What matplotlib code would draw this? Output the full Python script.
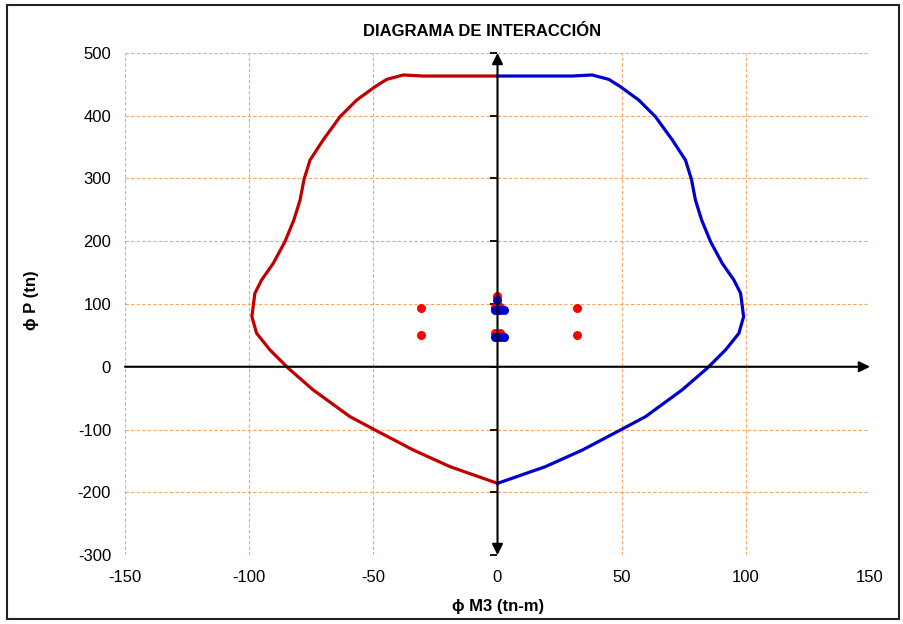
import numpy as np
import matplotlib
matplotlib.use("Agg")
import matplotlib.pyplot as plt
from matplotlib.patches import Rectangle

plt.rcParams['font.family'] = ['Liberation Sans', 'DejaVu Sans']
plt.rcParams['axes.unicode_minus'] = False

# interaction curve, left side (negative moment)
m_left = [0.0, -19.1, -33.9, -49.3, -59.4, -74.2, -84.2, -91.6, -97.0, -98.9,
          -97.7, -95.0, -90.3, -85.6, -82.0, -79.5, -77.9, -75.5, -70.2, -63.4,
          -56.7, -49.3, -44.6, -37.9, -29.9, 0.0]
p_left = [-185.8, -159.2, -132.7, -100.8, -79.5, -37.0, -2.5, 26.7, 53.3, 79.8,
          117.0, 138.2, 164.8, 199.3, 233.9, 265.7, 298.7, 329.3, 361.4, 398.5,
          425.0, 446.3, 458.0, 465.0, 463.3, 463.3]

# interaction curve, right side (positive moment)
m_right = [0.0, 19.3, 34.2, 49.5, 59.6, 74.3, 84.4, 91.8, 97.2, 99.1,
           97.9, 95.2, 90.5, 85.8, 82.2, 79.7, 78.1, 75.7, 70.4, 63.6,
           56.9, 49.5, 44.8, 38.1, 30.1, 0.0]
p_right = [-185.8, -159.2, -132.7, -100.8, -79.5, -37.0, -2.5, 26.7, 53.3, 79.8,
           117.0, 138.2, 164.8, 199.3, 233.9, 265.7, 298.7, 329.3, 361.4, 398.5,
           425.0, 446.3, 458.0, 465.0, 463.3, 463.3]

# load combinations
m_red = [-30.8, -30.8, 31.9, 31.9, 0.0, -1.0, 1.0, -1.0, 1.0]
p_red = [93.5, 50.6, 94.0, 50.6, 112.7, 95.7, 95.7, 53.8, 53.8]
m_blue = [0.0, -1.2, 0.0, 1.2, 2.6, -1.2, 0.0, 1.2, 2.6]
p_blue = [106.3, 90.5, 90.5, 90.5, 90.5, 47.0, 47.0, 47.0, 47.0]

x_ticks = [-150, -100, -50, 0, 50, 100, 150]
y_ticks = [-300, -200, -100, 0, 100, 200, 300, 400, 500]

W, H = 904, 624
fig = plt.figure(figsize=(W / 100, H / 100), dpi=100)
ax = fig.add_axes([125 / W, (H - 555) / H, (870 - 125) / W, (555 - 53) / H])

ax.set_xlim(-150, 150)
ax.set_ylim(-300, 500)
ax.set_xticks(x_ticks)
ax.set_yticks(y_ticks)
ax.grid(True, color='#F79646', lw=0.8, alpha=0.85, linestyle=(0, (3, 2)))
ax.set_axisbelow(True)
for s in ax.spines.values():
    s.set_visible(False)
ax.tick_params(length=0, labelsize=12)
ax.tick_params(axis='x', pad=11)
ax.tick_params(axis='y', pad=10)

# axes through origin with arrows
ax.annotate('', xy=(0, 500), xytext=(0, -300),
            arrowprops=dict(arrowstyle='<|-|>', color='black', lw=1.5,
                            mutation_scale=16, shrinkA=0, shrinkB=0),
            annotation_clip=False)
ax.annotate('', xy=(150, 0), xytext=(-150, 0),
            arrowprops=dict(arrowstyle='-|>', color='black', lw=1.5,
                            mutation_scale=16, shrinkA=0, shrinkB=0),
            annotation_clip=False)
ax.plot(np.zeros(len(y_ticks)), y_ticks, linestyle='none', marker=0,
        color='black', markersize=5, mew=1.3, clip_on=False)

ax.plot(m_left, p_left, color='#C00000', lw=2.3, solid_joinstyle='round')
ax.plot(m_right, p_right, color='#0000CC', lw=2.3, solid_joinstyle='round')
ax.plot(m_red, p_red, 'o', color='#FF0000', markersize=6.5, mew=0)
ax.plot(m_blue, p_blue, 'o', color='#0000CC', markersize=6.5, mew=0)

fig.text(482 / W, 1 - 31 / H, 'DIAGRAMA DE INTERACCIÓN', ha='center', va='center',
         fontsize=12, fontweight='bold')
fig.text(498 / W, 1 - 607 / H, 'ϕ M3 (tn-m)', ha='center', va='center',
         fontsize=12, fontweight='bold')
fig.text(32 / W, 1 - 300 / H, 'ϕ P (tn)', ha='center', va='center',
         fontsize=12, fontweight='bold', rotation=90)

fig.patches.append(Rectangle((7 / W, 5 / H), (899 - 7) / W, (619 - 5) / H,
                             transform=fig.transFigure, fill=False,
                             edgecolor='#222222', lw=1.5))

fig.savefig('out.png', dpi=100)
